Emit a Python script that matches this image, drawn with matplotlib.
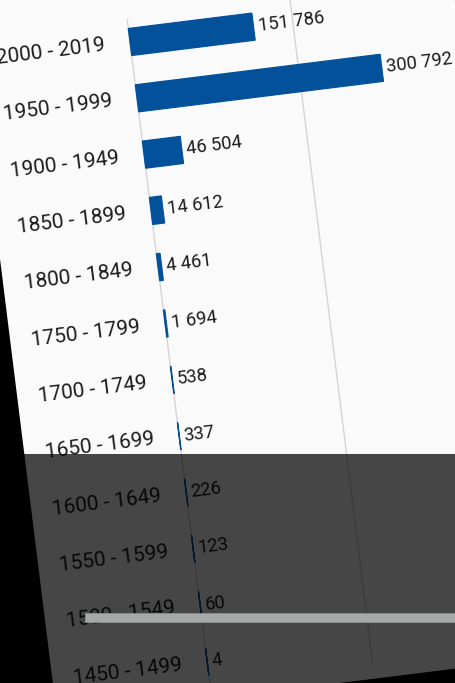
import matplotlib
matplotlib.use("agg")
import matplotlib.pyplot as plt
import matplotlib.transforms as mtransforms
from matplotlib.patches import Rectangle

periods = ['2000 - 2019', '1950 - 1999', '1900 - 1949', '1850 - 1899',
           '1800 - 1849', '1750 - 1799', '1700 - 1749', '1650 - 1699',
           '1600 - 1649', '1550 - 1599', '1500 - 1549', '1450 - 1499']
counts = [151786, 300792, 46504, 14612, 4461, 1694, 538, 337, 226, 123, 60, 4]
grid_ticks = [0, 200000, 400000]

plt.rcParams['font.family'] = ['Roboto', 'DejaVu Sans']

W, H = 456, 683
fig = plt.figure(figsize=(W / 100, H / 100), dpi=100, facecolor='black')
ax = fig.add_axes([0, 0, 1, 1])
ax.axis('off')

# the screenshot is tilted, so everything goes through a rotation
angle = 7.1
px_per_unit = 164 / 200000
row_px = 56.75
pivot = (130, H - 42)  # value 0 on the first row

ax.set_xlim(-pivot[0] / px_per_unit, (W - pivot[0]) / px_per_unit)
ax.set_ylim(pivot[1] / row_px, -(H - pivot[1]) / row_px)
rot = mtransforms.Affine2D().rotate_deg_around(pivot[0], pivot[1], angle)
tr = ax.transData + rot

# page background of the screenshot
ax.add_patch(Rectangle((-155.8 / px_per_unit, -6), 2e6, 6 + 662 / row_px,
                       transform=tr, facecolor='#fafafa', edgecolor='none', zorder=0))

for g in grid_ticks:
    ax.plot([g, g], [-0.39, 11.39], color='#d4d4d4', lw=1.0, transform=tr, zorder=1)

# thin edge so the tiny bars still show as a line
ax.barh(range(len(counts)), counts, height=0.48, color='#02519a',
        edgecolor='#02519a', lw=0.9, transform=tr, zorder=2)

for i, c in enumerate(counts):
    ax.text(c + 5500, i, '{:,}'.format(c).replace(',', ' '), transform=tr,
            rotation=angle, rotation_mode='anchor', ha='left', va='center',
            fontsize=13.2, color='#1c1c1c', zorder=3)
    ax.text(-25 / px_per_unit, i, periods[i], transform=tr,
            rotation=angle, rotation_mode='anchor', ha='right', va='center',
            fontsize=15, color='#1c1c1c', zorder=3)

# dark player overlay with the seek bar
ax.add_patch(Rectangle((0, 0), 1, 229.5 / H, transform=ax.transAxes,
                       facecolor='black', alpha=0.72, edgecolor='none', zorder=10))
ax.add_patch(Rectangle((85 / W, (H - 622) / H), 1, 9 / H, transform=ax.transAxes,
                       facecolor='#a6a9a7', edgecolor='#8c8f8e', lw=0.6, zorder=11))

fig.savefig('out.png', dpi=100, facecolor='black')
